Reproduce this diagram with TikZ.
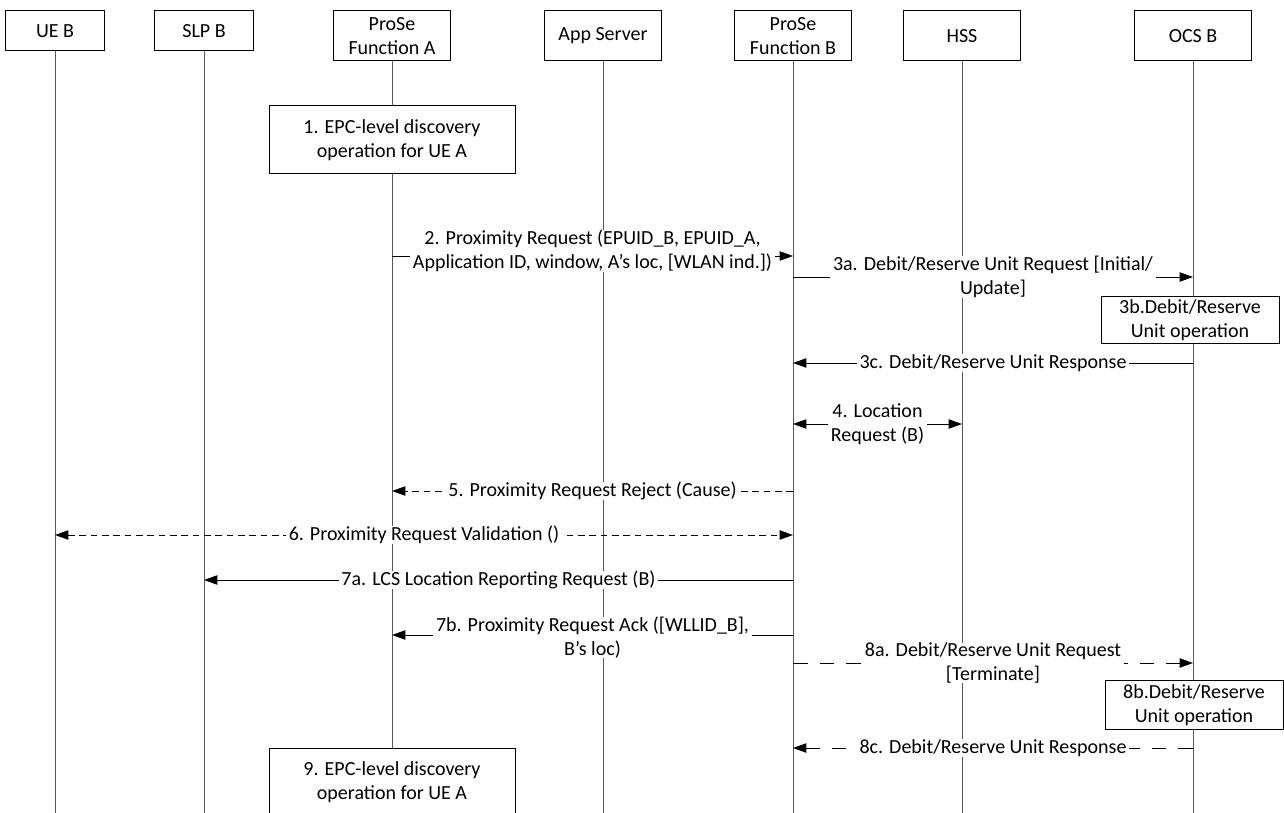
\documentclass[tikz,border=0pt]{standalone}
\usepackage{fontspec}
\setmainfont{Carlito}
\usetikzlibrary{arrows.meta}

\begin{document}
\begin{tikzpicture}[x=0.75pt, y=-0.75pt, line width=0.75pt,
    every node/.style={font=\fontsize{15pt}{18pt}\selectfont},
    head/.style={draw, fill=white, align=center, inner sep=1pt, minimum width=87.75pt, minimum height=37.5pt},
    smallhead/.style={head, minimum width=74.25pt, minimum height=30pt},
    act/.style={draw, fill=white, align=center, inner sep=1pt},
    life/.style={black!65},
    msg/.style={-{Triangle[length=10pt,width=7pt]}},
    both/.style={{Triangle[length=10pt,width=7pt]}-{Triangle[length=10pt,width=7pt]}},
    shortdash/.style={dash pattern=on 5pt off 3.5pt},
    longdash/.style={dash pattern=on 11pt off 9pt},
    lbl/.style={fill=white, align=center, inner xsep=2pt, inner ysep=0pt}]
	\useasboundingbox (0,0) rectangle (1284,813);
	\node[smallhead] (ueb) at (55,31) {UE B};
	\node[smallhead] (slpb) at (204,31) {SLP B};
	\node[head] (pfa) at (392,36) {ProSe\\Function A};
	\node[head] (as) at (603,36) {App Server};
	\node[head] (pfb) at (793,36) {ProSe\\Function B};
	\node[head] (hss) at (962,36) {HSS};
	\node[head] (ocsb) at (1193,36) {OCS B};
	\coordinate (bottom) at (0,813);
	\foreach \n in {ueb,slpb,pfa,as,pfb,hss,ocsb}
		\draw[life] (\n.south) -- (\n.south |- bottom);
	\node[act, minimum width=184.5pt, minimum height=51pt] (epc1) at (392,140) {1. EPC-level discovery\\operation for UE A};
	\draw[msg] (pfa |- 0,256) -- node[lbl, yshift=3.75pt] {2. Proximity Request (EPUID\_B, EPUID\_A,\\Application ID, window, A's loc, {[WLAN ind.])}} (pfb |- 0,256);
	\draw[msg] (pfb |- 0,277) -- node[lbl] {3a. Debit/Reserve Unit Request [Initial/\\{Update]}} (ocsb |- 0,277);
	\node[act, minimum width=133.5pt, minimum height=35pt] (op3) at (1190,320) {3b.Debit/Reserve\\Unit operation};
	\draw[msg] (ocsb |- 0,363) -- node[lbl] {3c. Debit/Reserve Unit Response} (pfb |- 0,363);
	\draw[both] (pfb |- 0,424) -- node[lbl] {4. Location\\Request (B)} (hss |- 0,424);
	\draw[msg, shortdash] (pfb |- 0,491) -- node[lbl] {5. Proximity Request Reject (Cause)} (pfa |- 0,491);
	\draw[both, shortdash] (ueb |- 0,535) -- node[lbl] {6. Proximity Request Validation ()} (pfb |- 0,535);
	\draw[msg] (pfb |- 0,580) -- node[lbl] {7a. LCS Location Reporting Request (B)} (slpb |- 0,580);
	\draw[msg] (pfb |- 0,635) -- node[lbl, yshift=-2pt] {7b. Proximity Request Ack ([WLLID\_B],\\B's loc)} (pfa |- 0,635);
	\draw[msg, longdash] (pfb |- 0,663) -- node[lbl] {8a. Debit/Reserve Unit Request\\{[Terminate]}} (ocsb |- 0,663);
	\node[act, minimum width=133.5pt, minimum height=36.75pt] (op8) at (1194,705) {8b.Debit/Reserve\\Unit operation};
	\draw[msg, longdash] (ocsb |- 0,748) -- node[lbl] {8c. Debit/Reserve Unit Response} (pfb |- 0,748);
	\node[act, minimum width=184.5pt, minimum height=51pt, anchor=north] (epc9) at (392,748) {9. EPC-level discovery\\operation for UE A};
\end{tikzpicture}
\end{document}
